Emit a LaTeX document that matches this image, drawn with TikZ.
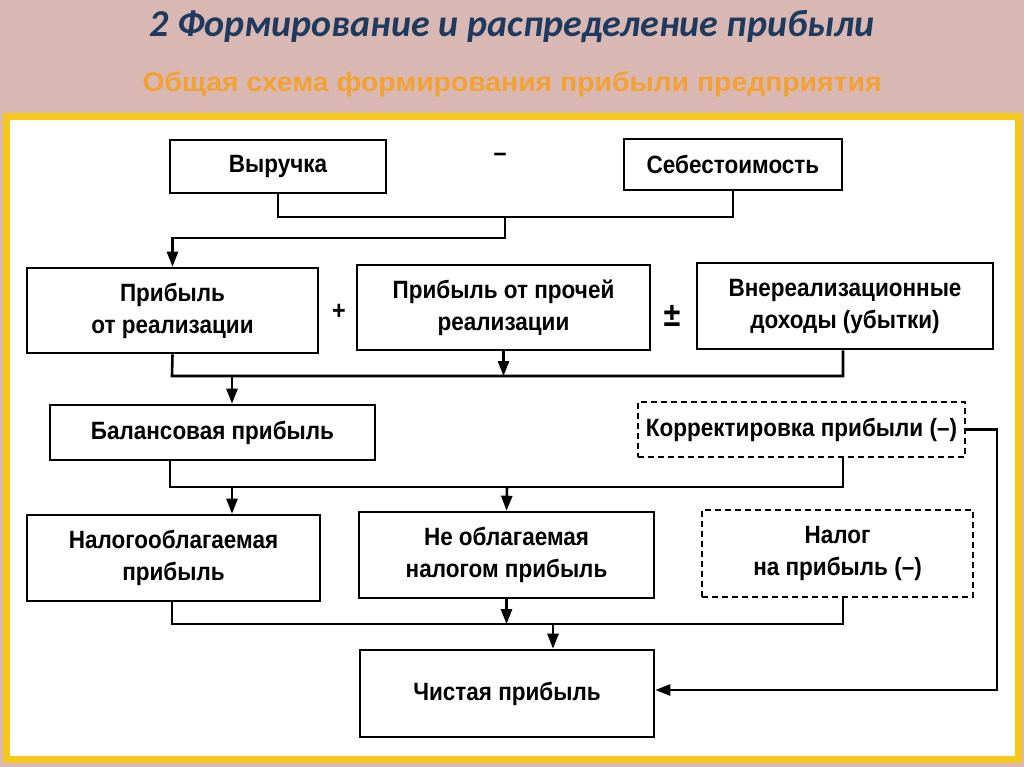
\documentclass[tikz,border=0pt]{standalone}
\usepackage{fontspec}
\setmainfont{Liberation Sans}
\newfontfamily\boxfont{Liberation Sans}[FakeStretch=0.9]
\newfontfamily\subfont{Liberation Sans}[FakeStretch=1.05]
\newfontfamily\titlefont{Carlito}
\usetikzlibrary{arrows.meta}
\definecolor{bgpink}{HTML}{D9B8B3}
\definecolor{panelyellow}{HTML}{F6C81A}
\definecolor{titleblue}{HTML}{1F3A5F}
\definecolor{suborange}{HTML}{F2A232}
\tikzset{
  box/.style={draw, line width=2.6pt, align=center, inner sep=0pt,
    font=\boxfont\bfseries\fontsize{25}{32}\selectfont},
  dbox/.style={box, line width=2pt, dash pattern=on 6pt off 4pt},
  conn/.style={line width=2.6pt},
  arr/.style={conn, -{Triangle[length=15pt,width=11pt]}},
  sign/.style={font=\boxfont\bfseries\fontsize{26}{26}\selectfont, inner sep=0pt}
}
\begin{document}
\begin{tikzpicture}[x=1pt,y=-1pt]
\fill[bgpink] (0,0) rectangle (1024,767);
\useasboundingbox (0,0) rectangle (1024,767);
\draw[panelyellow, line width=7pt, fill=white] (6.5,116.5) rectangle (1018.5,759.5);

\node[font=\titlefont\bfseries\itshape\fontsize{38}{42}\selectfont, text=titleblue] (title) at (512,27) {2 Формирование и распределение прибыли};
\node[font=\subfont\bfseries\fontsize{27}{30}\selectfont, text=suborange] (sub) at (512,84) {Общая схема формирования прибыли предприятия};

\node[box, minimum width=216pt, minimum height=53pt] (vyr) at (278,166.5) {Выручка};
\node[box, minimum width=218pt, minimum height=51pt] (seb) at (733,164.5) {Себестоимость};
\node[box, minimum width=291pt, minimum height=85pt] (pr) at (172.5,310.5) {Прибыль\\от реализации};
\node[box, minimum width=293pt, minimum height=85pt] (prp) at (503.5,307.5) {Прибыль от прочей\\реализации};
\node[box, minimum width=296pt, minimum height=86pt] (vne) at (845,306) {Внереализационные\\доходы (убытки)};
\node[box, minimum width=325pt, minimum height=55pt] (bal) at (212.5,432.5) {Балансовая прибыль};
\node[dbox, minimum width=327pt, minimum height=55pt] (kor) at (801.5,429.5) {Корректировка прибыли (–)};
\node[box, minimum width=293pt, minimum height=86pt] (nal) at (173.5,558) {Налогооблагаемая\\прибыль};
\node[box, minimum width=295pt, minimum height=86pt] (neo) at (506.5,555) {Не облагаемая\\налогом прибыль};
\node[dbox, minimum width=271pt, minimum height=87pt] (nlg) at (837.5,553.5) {Налог\\на прибыль (–)};
\node[box, minimum width=294pt, minimum height=87pt] (chi) at (507,693.5) {Чистая прибыль};

\node[sign] (minus1) at (500,157) {–};
\node[sign] (plus1) at (339,312) {+};
\node[sign, font=\boxfont\bfseries\fontsize{34}{34}\selectfont] (pm) at (672,316) {±};

% Revenue minus cost
\coordinate (c1) at (505,217);
\coordinate (c2) at (505,238);
\draw[conn] (vyr.south) |- (c1) -| (seb.south);
\draw[arr] (c1) -- (c2) -| (pr.north);

% row 2 collector
\coordinate (r2a) at (172,376);
\coordinate (r2b) at (843,376);
\coordinate (r2c) at (232,376);
\draw[conn] (pr.south) -- (r2a) -- (r2b) -- (r2b |- vne.south);
\draw[arr] (prp.south) -- (prp.south |- r2a);
\draw[arr] (r2c) -- (r2c |- bal.north);

% row 3 collector
\coordinate (r3a) at (170,487);
\coordinate (r3b) at (843,487);
\coordinate (r3c) at (232,487);
\coordinate (r3d) at (507,487);
\draw[conn] (r3a |- bal.south) -- (r3a) -- (r3b) -- (r3b |- kor.south);
\draw[arr] (r3c) -- (r3c |- nal.north);
\draw[arr] (r3d) -- (neo.north);

% row 4 collector
\coordinate (r4a) at (172,624);
\coordinate (r4b) at (843,624);
\coordinate (r4c) at (553,624);
\draw[conn] (r4a |- nal.south) -- (r4a) -- (r4b) -- (r4b |- nlg.south);
\draw[arr] (neo.south) -- (neo.south |- r4a);
\draw[arr] (r4c) -- (r4c |- chi.north);

% correction loop
\coordinate (k1) at (997,429.5);
\coordinate (k2) at (997,690);
\draw[arr] (kor.east) -- (k1) -- (k2) -- (k2 -| chi.east);
\end{tikzpicture}
\end{document}
